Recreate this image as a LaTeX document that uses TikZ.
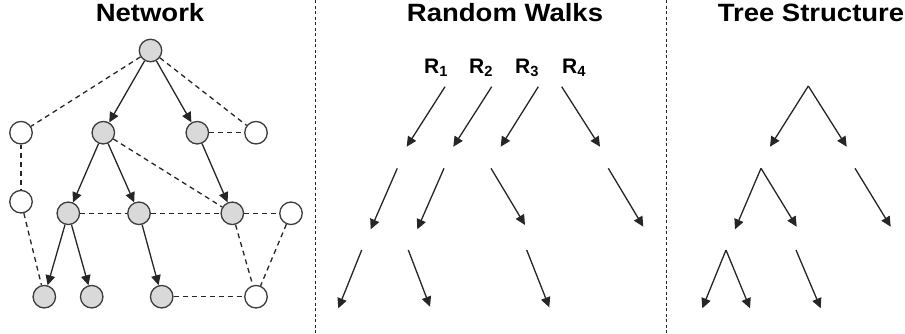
\documentclass[tikz,border=0pt]{standalone}
\usepackage{fontspec}
\setmainfont{Liberation Sans}
\usetikzlibrary{arrows.meta}
\definecolor{nodegray}{HTML}{D9D9D9}
\definecolor{edgecol}{HTML}{262626}
\begin{document}
\begin{tikzpicture}[x=1pt,y=-1pt,
  vtx/.style={circle,draw=edgecol!90,line width=1.3pt,minimum size=22.5pt,inner sep=0pt},
  gv/.style={vtx,fill=nodegray},
  wv/.style={vtx,fill=white},
  arr/.style={draw=edgecol,line width=1.3pt,-{Triangle[length=10pt,width=9.5pt]}},
  dashedge/.style={draw=edgecol,line width=1.3pt,dash pattern=on 5pt off 4pt},
  sep/.style={draw=edgecol,line width=0.9pt,dash pattern=on 3pt off 2.5pt},
  ttl/.style={font=\fontsize{25}{25}\selectfont\bfseries,xscale=1.1,anchor=base,inner sep=0pt},
  rl/.style={font=\fontsize{21}{21}\selectfont\bfseries,inner sep=0pt}]
\useasboundingbox (0,0) rectangle (905,333);
% titles
\node[ttl] (t1) at (150,21.7) {Network};
\node[ttl] (t2) at (505,21.7) {Random Walks};
\node[ttl] (t3) at (811,21.7) {Tree Structure};
% separators
\coordinate (s1a) at (315,0); \coordinate (s1b) at (315,333);
\coordinate (s2a) at (666,0); \coordinate (s2b) at (666,333);
\draw[sep] (s1a) -- (s1b);
\draw[sep] (s2a) -- (s2b);
% network nodes
\node[gv] (a) at (150.5,50.5) {};
\node[wv] (b1) at (21,132.7) {};
\node[gv] (b2) at (103.3,132.7) {};
\node[gv] (b3) at (197.3,132.7) {};
\node[wv] (b4) at (256,132.7) {};
\node[wv] (c1) at (21,201.7) {};
\node[gv] (c2) at (68.3,213.3) {};
\node[gv] (c3) at (139,213.3) {};
\node[gv] (c4) at (232.3,213.3) {};
\node[wv] (c5) at (291,213.3) {};
\node[gv] (d1) at (44.3,296.7) {};
\node[gv] (d2) at (91.7,296.7) {};
\node[gv] (d3) at (161.7,296.7) {};
\node[wv] (d4) at (256,296.7) {};
% dashed edges
\draw[dashedge] (a) -- (b1);
\draw[dashedge] (a) -- (b4);
\draw[dashedge] (b3) -- (b4);
\draw[dashedge,dash phase=1pt] (b1) -- (c1);
\draw[dashedge] (c1) -- (d1);
\draw[dashedge] (c2) -- (c3);
\draw[dashedge] (c3) -- (c4);
\draw[dashedge] (b2) -- (c4);
\draw[dashedge] (c4) -- (c5);
\draw[dashedge] (c4) -- (d4);
\draw[dashedge] (c5) -- (d4);
\draw[dashedge] (d3) -- (d4);
% solid arrows
\draw[arr] (a) -- (b2);
\draw[arr] (a) -- (b3);
\draw[arr] (b2) -- (c2);
\draw[arr] (b2) -- (c3);
\draw[arr] (b3) -- (c4);
\draw[arr] (c2) -- (d1);
\draw[arr] (c2) -- (d2);
\draw[arr] (c3) -- (d3);
% random walk labels
\node[rl] (r1) at (436,68) {R\textsubscript{\bfseries 1}};
\node[rl] (r2) at (481,68) {R\textsubscript{\bfseries 2}};
\node[rl] (r3) at (527,68) {R\textsubscript{\bfseries 3}};
\node[rl] (r4) at (574,68) {R\textsubscript{\bfseries 4}};
% random walk arrows
\coordinate (p1) at (445,86.7);   \coordinate (q1) at (406.7,146.7);
\coordinate (p2) at (491.7,86.7); \coordinate (q2) at (453.3,146.7);
\coordinate (p3) at (538.3,86.7); \coordinate (q3) at (500.7,146.7);
\coordinate (p4) at (561.7,86.7); \coordinate (q4) at (600,146.7);
\coordinate (p5) at (397.3,168.3); \coordinate (q5) at (370.7,229.3);
\coordinate (p6) at (444,168.3);   \coordinate (q6) at (417.3,229.3);
\coordinate (p7) at (491,168.3);   \coordinate (q7) at (525,225);
\coordinate (p8) at (608.3,168.3); \coordinate (q8) at (643.3,226.7);
\coordinate (p9) at (361.7,250);   \coordinate (q9) at (338.3,308.3);
\coordinate (p10) at (408.3,250);  \coordinate (q10) at (430,306.7);
\coordinate (p11) at (526.7,250);  \coordinate (q11) at (549.3,307.3);
\foreach \i in {1,...,11} {\draw[arr] (p\i) -- (q\i);}
% tree structure
\coordinate (ta) at (808.3,86);   \coordinate (tl) at (770,146.7); \coordinate (tr) at (846.7,146.7);
\coordinate (ub) at (761,168.3);  \coordinate (ul) at (735,229.3); \coordinate (ur) at (796.7,226.7);
\coordinate (vb) at (855,168.3);  \coordinate (vr) at (890.7,226.7);
\coordinate (wb) at (726,250);    \coordinate (wl) at (702.3,308.3); \coordinate (wr) at (750,308.3);
\coordinate (xb) at (796,250);    \coordinate (xr) at (820.7,308.3);
\draw[arr] (ta) -- (tl);
\draw[arr] (ta) -- (tr);
\draw[arr] (ub) -- (ul);
\draw[arr] (ub) -- (ur);
\draw[arr] (vb) -- (vr);
\draw[arr] (wb) -- (wl);
\draw[arr] (wb) -- (wr);
\draw[arr] (xb) -- (xr);
\end{tikzpicture}
\end{document}
